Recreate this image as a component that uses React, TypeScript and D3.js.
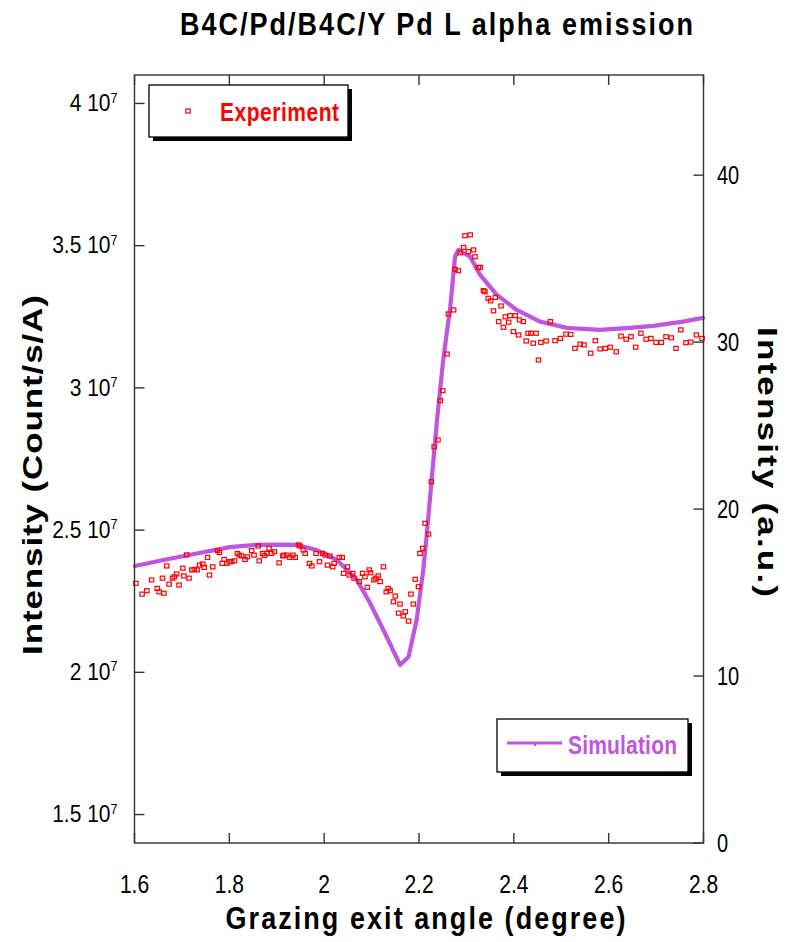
import React from "react";
import * as d3 from "d3";

// ---- Data (intensity in units of 10^7 Count/s/A) ----
const xTicks = [1.6, 1.8, 2.0, 2.2, 2.4, 2.6, 2.8];
const xTickLabels = ["1.6", "1.8", "2", "2.2", "2.4", "2.6", "2.8"];
const leftTicks = [1.5, 2, 2.5, 3, 3.5, 4];
const leftTickLabels = ["1.5", "2", "2.5", "3", "3.5", "4"];
const rightTicks = [0, 10, 20, 30, 40];

const simAngle = [1.601, 1.661, 1.731, 1.801, 1.858, 1.907, 1.942, 1.984, 2.027, 2.069, 2.097, 2.125, 2.16, 2.178, 2.195, 2.209, 2.216, 2.238, 2.251, 2.266, 2.276, 2.283, 2.308, 2.329, 2.364, 2.406, 2.455, 2.512, 2.582, 2.645, 2.694, 2.757, 2.799];
const simCounts = [2.374, 2.395, 2.418, 2.44, 2.448, 2.449, 2.448, 2.43, 2.395, 2.325, 2.243, 2.149, 2.026, 2.055, 2.184, 2.36, 2.477, 2.887, 3.098, 3.285, 3.461, 3.485, 3.461, 3.397, 3.327, 3.274, 3.233, 3.211, 3.204, 3.211, 3.218, 3.233, 3.246];

const expAngle = [
  1.603, 1.616, 1.626, 1.636, 1.648, 1.652, 1.659, 1.662, 1.668, 1.673, 1.68, 1.684, 1.689, 1.694, 1.702, 1.704, 1.71, 1.715, 1.721, 1.726,
  1.732, 1.737, 1.744, 1.747, 1.754, 1.758, 1.765, 1.775, 1.779, 1.785, 1.789, 1.795, 1.8, 1.805, 1.811, 1.817, 1.821, 1.826, 1.833, 1.838,
  1.847, 1.852, 1.861, 1.863, 1.87, 1.874, 1.879, 1.884, 1.889, 1.895, 1.905, 1.913, 1.915, 1.921, 1.927, 1.934, 1.939, 1.946, 1.949, 1.956,
  1.96, 1.969, 1.974, 1.983, 1.99, 1.997, 2.002, 2.007, 2.012, 2.018, 2.021, 2.032, 2.038, 2.041, 2.049, 2.053, 2.06, 2.063, 2.074, 2.081,
  2.086, 2.091, 2.095, 2.098, 2.105, 2.109, 2.114, 2.118, 2.125, 2.131, 2.135, 2.139, 2.146, 2.15, 2.157, 2.16, 2.167, 2.171, 2.178, 2.183,
  2.188, 2.192, 2.199, 2.202, 2.208, 2.213, 2.22, 2.226, 2.232, 2.24, 2.245, 2.25, 2.259, 2.262, 2.273, 2.276, 2.283, 2.287, 2.294, 2.297,
  2.304, 2.308, 2.315, 2.318, 2.325, 2.329, 2.336, 2.339, 2.346, 2.351, 2.357, 2.361, 2.368, 2.373, 2.378, 2.382, 2.389, 2.392, 2.399, 2.403,
  2.41, 2.412, 2.42, 2.426, 2.43, 2.436, 2.441, 2.447, 2.452, 2.457, 2.468, 2.477, 2.487, 2.498, 2.51, 2.52, 2.529, 2.54, 2.548, 2.562,
  2.572, 2.582, 2.593, 2.603, 2.616, 2.626, 2.637, 2.647, 2.657, 2.668, 2.679, 2.689, 2.7, 2.711, 2.721, 2.732, 2.742, 2.752, 2.763, 2.773,
  2.785, 2.797,
];
const expCounts = [
  2.313, 2.275, 2.287, 2.325, 2.295, 2.283, 2.331, 2.278, 2.374, 2.31, 2.331, 2.336, 2.346, 2.307, 2.366, 2.339, 2.413, 2.331, 2.36, 2.362,
  2.36, 2.377, 2.381, 2.369, 2.404, 2.342, 2.371, 2.428, 2.421, 2.383, 2.397, 2.383, 2.389, 2.389, 2.392, 2.418, 2.412, 2.409, 2.397, 2.406,
  2.428, 2.412, 2.444, 2.392, 2.418, 2.411, 2.418, 2.436, 2.418, 2.424, 2.385, 2.409, 2.412, 2.412, 2.404, 2.412, 2.404, 2.448, 2.444, 2.43,
  2.418, 2.383, 2.374, 2.418, 2.389, 2.418, 2.412, 2.377, 2.409, 2.371, 2.383, 2.404, 2.404, 2.348, 2.371, 2.342, 2.348, 2.331, 2.319, 2.348,
  2.336, 2.299, 2.36, 2.35, 2.325, 2.331, 2.339, 2.319, 2.371, 2.283, 2.295, 2.287, 2.248, 2.268, 2.208, 2.24, 2.198, 2.213, 2.18, 2.275,
  2.24, 2.327, 2.301, 2.418, 2.436, 2.524, 2.486, 2.67, 2.793, 2.817, 2.955, 2.99, 3.119, 3.26, 3.274, 3.417, 3.412, 3.475, 3.494, 3.535,
  3.479, 3.538, 3.485, 3.461, 3.423, 3.424, 3.342, 3.338, 3.315, 3.306, 3.271, 3.318, 3.233, 3.288, 3.213, 3.25, 3.231, 3.254, 3.198, 3.254,
  3.186, 3.239, 3.233, 3.165, 3.192, 3.192, 3.157, 3.192, 3.098, 3.16, 3.165, 3.233, 3.166, 3.174, 3.189, 3.188, 3.139, 3.154, 3.151, 3.122,
  3.166, 3.137, 3.139, 3.143, 3.127, 3.182, 3.171, 3.18, 3.143, 3.192, 3.171, 3.174, 3.16, 3.16, 3.18, 3.176, 3.139, 3.204, 3.159, 3.161,
  3.186, 3.174,
];

const W = 792;
const H = 942;
const left = 134.5, right = 703.5, top = 75, bottom = 843;
const FONT = "'Liberation Sans', Arial, Helvetica, sans-serif";
const SY = 1.25;
const SIM = "#bf55e0";
const EXP = "#ff0000";
const AX = "#333";

export default function App() {
  const x = d3.scaleLinear().domain([1.6, 2.8]).range([left, right]);
  const yL = d3.scaleLinear().domain([1.4, 4.1]).range([bottom, top]);
  const yR = d3.scaleLinear().domain([0, 46]).range([bottom, top]);

  const simPts = simAngle.map((a, i) => [a, simCounts[i]] as [number, number]);
  const line = d3.line<[number, number]>().x((d) => x(d[0])).y((d) => yL(d[1]));

  const tick = 10;

  return (
    <svg width={W} height={H} style={{ position: "absolute", left: 0, top: 0, background: "#fff" }} fontFamily={FONT}>
      <rect x={0} y={0} width={W} height={H} fill="#fff" />
      {/* Title */}
      <text transform={`translate(436.5,35) scale(1,1.13)`} textAnchor="middle" fontSize={27} fontWeight="bold" textLength={513} lengthAdjust="spacing">
        B4C/Pd/B4C/Y Pd L alpha emission
      </text>

      {/* Simulation line */}
      <path d={line(simPts) || ""} fill="none" stroke={SIM} strokeWidth={4.2} strokeLinejoin="round" strokeLinecap="round" />

      {/* Experiment markers */}
      {expAngle.map((a, i) => (
        <rect key={i} x={x(a) - 2.2} y={yL(expCounts[i]) - 2} width={4.4} height={4} fill="none" stroke={EXP} strokeWidth={1.2} />
      ))}

      {/* Frame */}
      <rect x={left} y={top} width={right - left} height={bottom - top} fill="none" stroke={AX} strokeWidth={1.4} />

      {/* X ticks bottom & top */}
      {xTicks.map((t, i) => (
        <g key={"x" + i}>
          <line x1={x(t)} x2={x(t)} y1={bottom} y2={bottom - tick} stroke={AX} strokeWidth={1.4} />
          <line x1={x(t)} x2={x(t)} y1={top} y2={top + tick} stroke={AX} strokeWidth={1.4} />
          <text transform={`translate(${x(t)},893) scale(1,${SY})`} textAnchor="middle" fontSize={21}>
            {xTickLabels[i]}
          </text>
        </g>
      ))}

      {/* Left ticks */}
      {leftTicks.map((t, i) => (
        <g key={"l" + i}>
          <line x1={left} x2={left + tick} y1={yL(t)} y2={yL(t)} stroke={AX} strokeWidth={1.4} />
          <text transform={`translate(117.5,${yL(t) + 7.7}) scale(1,1.15)`} textAnchor="end" fontSize={21}>
            {leftTickLabels[i] + " 10"}
            <tspan fontSize={12.5} dy={-7.5}>7</tspan>
          </text>
        </g>
      ))}

      {/* Right ticks */}
      {rightTicks.map((t, i) => (
        <g key={"r" + i}>
          <line x1={right} x2={right - tick} y1={yR(t)} y2={yR(t)} stroke={AX} strokeWidth={1.4} />
          <text transform={`translate(717,${yR(t) + 9.2}) scale(1,${SY})`} textAnchor="start" fontSize={20}>
            {String(t)}
          </text>
        </g>
      ))}

      {/* Axis titles */}
      <text transform={`translate(425.5,929) scale(1,1.15)`} textAnchor="middle" fontSize={27} fontWeight="bold" textLength={400} lengthAdjust="spacing">
        Grazing exit angle (degree)
      </text>
      <text transform={`translate(42,475) rotate(-90) scale(${SY},1)`} textAnchor="middle" fontSize={28} fontWeight="bold" textLength={288} lengthAdjust="spacing">
        Intensity (Count/s/A)
      </text>
      <text transform={`translate(758,462) rotate(90) scale(${SY},1)`} textAnchor="middle" fontSize={28} fontWeight="bold" textLength={216} lengthAdjust="spacing">
        Intensity (a.u.)
      </text>

      {/* Legend: Experiment */}
      <rect x={153} y={89} width={199} height={52} fill="#000" />
      <rect x={149} y={85} width={199} height={52} fill="#fff" stroke="#000" strokeWidth={1.3} />
      <rect x={185.8} y={109} width={4.4} height={4} fill="none" stroke={EXP} strokeWidth={1.2} />
      <text transform={`translate(220,121) scale(1,${SY})`} fontSize={21} fontWeight="bold" fill={EXP} textLength={119} lengthAdjust="spacing">
        Experiment
      </text>

      {/* Legend: Simulation */}
      <rect x={501} y={723} width={191} height={53} fill="#000" />
      <rect x={497} y={719} width={191} height={53} fill="#fff" stroke="#000" strokeWidth={1.3} />
      <line x1={507} x2={562} y1={743} y2={743} stroke={SIM} strokeWidth={3} />
      <line x1={535} x2={535} y1={743} y2={746} stroke={SIM} strokeWidth={2} />
      <text transform={`translate(568,754) scale(1,${SY})`} fontSize={21} fontWeight="bold" fill={SIM} textLength={109} lengthAdjust="spacing">
        Simulation
      </text>
    </svg>
  );
}
